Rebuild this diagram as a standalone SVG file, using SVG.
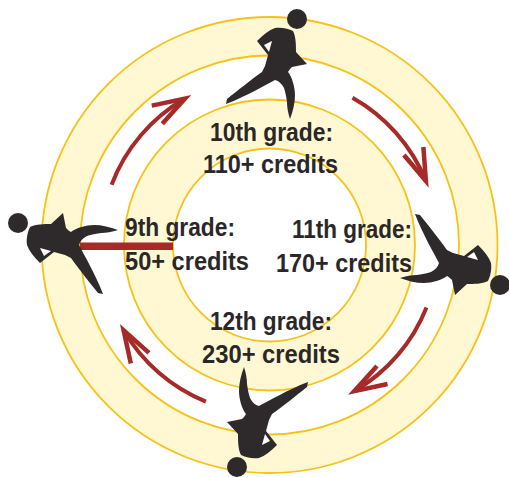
<svg xmlns="http://www.w3.org/2000/svg" width="509" height="477" viewBox="0 0 509 477">
<style>
.ring{stroke:#f6c21a;stroke-width:1.8}
.band{fill:#fff8d3}
.gap{fill:#ffffff}
.lbl{font-family:"Liberation Sans",Arial,sans-serif;font-weight:bold;font-size:26.5px;fill:#2b2728}
.arc{fill:none;stroke:#a52a28;stroke-width:4}
.body{fill:#2e2a2b}
.notch{fill:#ffffff}
</style>
<defs>
<marker id="chev" markerUnits="userSpaceOnUse" markerWidth="60" markerHeight="60" refX="0" refY="0" orient="auto" overflow="visible">
<path d="M -32.3,-10.5 L 0,0 L -32.3,10.5" fill="none" stroke="#a52a28" stroke-width="4.5" stroke-linejoin="miter" stroke-miterlimit="6"/>
</marker>
<g id="runner">
<circle cx="0" cy="0" r="10" class="body"/>
<path class="body" d="M -22,9 C -15,8 -8,10 -4,12 C -1,18 -1,26 -1,33 L 10,45 L -5,48 C -7,50 -8,51 -9,53 C -5,58 -2,68 -2,76 C -2,84 -4,92 -7,100 C -9,94 -10,88 -10,83 C -11,76 -12,72 -13,69 C -15,65 -18,62 -22,61 C -32,66 -50,77 -71,85 L -70,80 C -60,72 -45,60 -35,53 L -32,47 L -29,36 L -40,22 C -34,16 -28,11 -22,9 Z"/>
<path class="notch" d="M -33,26 L -25,22 L -28,33 Z"/>
</g>
</defs>
<g id="rings">
<circle cx="269.5" cy="245" r="228" class="ring band"/>
<circle cx="269.5" cy="245" r="189.5" class="ring gap"/>
<circle cx="269.5" cy="245" r="145.5" class="ring band"/>
<circle cx="269.5" cy="245" r="96.5" class="ring gap"/>
</g>
<g id="connectors">
<rect x="80" y="242.5" width="93" height="7.5" fill="#a52a28"/>
<path class="arc" marker-end="url(#chev)" d="M 111.6,184.7 A 169 169 0 0 1 185,98.6"/>
<path class="arc" marker-end="url(#chev)" d="M 352.5,97.8 A 169 169 0 0 1 425.9,180.9"/>
<path class="arc" marker-end="url(#chev)" d="M 426.5,307.5 A 169 169 0 0 1 354.3,391.2"/>
<path class="arc" marker-end="url(#chev)" d="M 205.9,401.6 A 169 169 0 0 1 123.6,330.3"/>
</g>
<g id="runner-10th"><use href="#runner" transform="translate(297,19)"/></g>
<g id="runner-11th"><use href="#runner" transform="translate(500,285) rotate(90)"/></g>
<g id="runner-12th"><use href="#runner" transform="translate(237,467) rotate(180)"/></g>
<g id="runner-9th"><use href="#runner" transform="translate(18,223) rotate(-90)"/></g>
<g id="node-10th">
<text class="lbl" x="210" y="140.5" textLength="123" lengthAdjust="spacingAndGlyphs">10th grade:</text>
<text class="lbl" x="203" y="173" textLength="135" lengthAdjust="spacingAndGlyphs">110+ credits</text>
</g>
<g id="node-9th">
<text class="lbl" x="125" y="235.5" textLength="110" lengthAdjust="spacingAndGlyphs">9th grade:</text>
<text class="lbl" x="125" y="270" textLength="124" lengthAdjust="spacingAndGlyphs">50+ credits</text>
</g>
<g id="node-11th">
<text class="lbl" x="292" y="238" textLength="120" lengthAdjust="spacingAndGlyphs">11th grade:</text>
<text class="lbl" x="276" y="272" textLength="136" lengthAdjust="spacingAndGlyphs">170+ credits</text>
</g>
<g id="node-12th">
<text class="lbl" x="210" y="330" textLength="122" lengthAdjust="spacingAndGlyphs">12th grade:</text>
<text class="lbl" x="202" y="363" textLength="138" lengthAdjust="spacingAndGlyphs">230+ credits</text>
</g>
</svg>
